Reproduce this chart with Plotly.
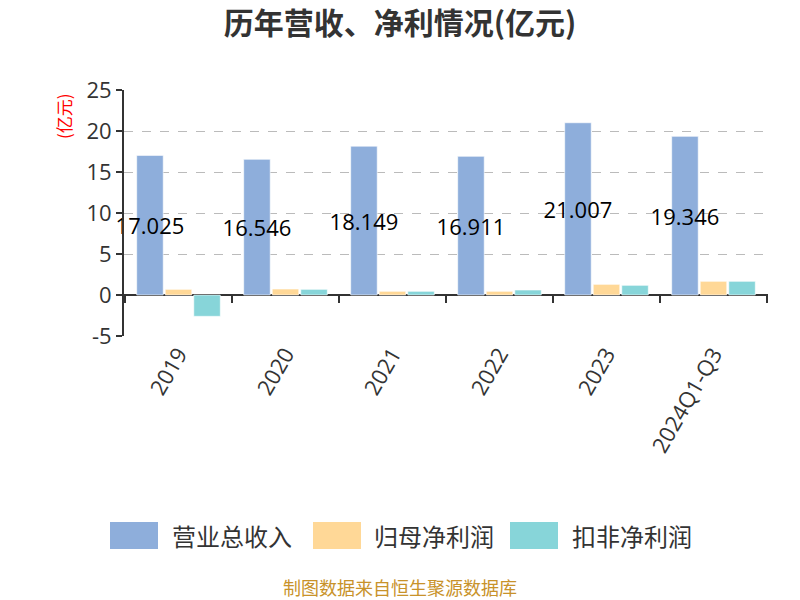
import plotly.graph_objects as go

categories = ["2019", "2020", "2021", "2022", "2023", "2024Q1-Q3"]
revenue = [17.025, 16.546, 18.149, 16.911, 21.007, 19.346]
net_profit = [0.69, 0.73, 0.45, 0.45, 1.30, 1.67]
deducted_profit = [-2.60, 0.69, 0.45, 0.61, 1.18, 1.67]
series_names = ["营业总收入", "归母净利润", "扣非净利润"]
colors = ["#8eaedb", "#ffd897", "#87d5d9"]
y_tick_values = [-5, 0, 5, 10, 15, 20, 25]
y_tick_labels = ["-5", "0", "5", "10", "15", "20", "25"]

CJK = "Noto Sans CJK SC, sans-serif"
NUM = "Open Sans, Noto Sans CJK SC, sans-serif"

W, H = 800, 600
ML, MR, MT, MB = 124, 32, 90, 264
PW, PH = W - ML - MR, H - MT - MB


def px(x):
    return (x - ML) / PW


def py(y):
    return (H - MB - y) / PH


fig = go.Figure()
fig.add_trace(go.Bar(
    x=categories, y=revenue, name=series_names[0],
    marker=dict(color=colors[0], line=dict(color="rgba(255,255,255,0.6)", width=1)),
    text=[f"{v:.3f}" for v in revenue], textposition="inside", textangle=0,
    constraintext="none", insidetextanchor="middle", cliponaxis=False,
    insidetextfont=dict(family=NUM, size=22, color="#000"),
    showlegend=False,
))
fig.add_trace(go.Bar(
    x=categories, y=net_profit, name=series_names[1],
    marker=dict(color=colors[1], line=dict(color="rgba(255,255,255,0.6)", width=1)),
    showlegend=False,
))
fig.add_trace(go.Bar(
    x=categories, y=deducted_profit, name=series_names[2],
    marker=dict(color=colors[2], line=dict(color="rgba(255,255,255,0.6)", width=1)),
    showlegend=False,
))

# category boundary ticks on the zero line
shapes = []
for k in range(len(categories) + 1):
    shapes.append(dict(
        type="line", xref="x", yref="y", x0=k - 0.5, x1=k - 0.5,
        ysizemode="pixel", yanchor=0, y0=0, y1=-8,
        line=dict(color="#333", width=2),
    ))

# custom legend
legend_items = [(110, 170), (313, 372), (510, 570)]
annotations = []
for (rx, tx), name, col in zip(legend_items, series_names, colors):
    shapes.append(dict(type="rect", xref="paper", yref="paper",
                       x0=px(rx), x1=px(rx + 48), y0=py(549), y1=py(522),
                       fillcolor=col, line=dict(width=0), layer="above"))
    annotations.append(dict(xref="paper", yref="paper", x=px(tx), y=py(535),
                            text=name, showarrow=False, xanchor="left", yanchor="middle",
                            font=dict(family=CJK, size=24, color="#333")))

annotations.append(dict(xref="paper", yref="paper", x=px(63), y=py(116),
                        text="(亿元)", showarrow=False, textangle=-90,
                        xanchor="center", yanchor="middle",
                        font=dict(family=CJK, size=17, color="red")))
annotations.append(dict(xref="paper", yref="paper", x=px(400), y=py(587),
                        text="制图数据来自恒生聚源数据库", showarrow=False,
                        xanchor="center", yanchor="middle",
                        font=dict(family=CJK, size=18, color="#c8922a")))

fig.update_layout(
    width=W, height=H,
    margin=dict(l=ML, r=MR, t=MT, b=MB),
    paper_bgcolor="white", plot_bgcolor="white",
    barmode="group", bargap=0.2, bargroupgap=0.07,
    title=dict(text="<b>历年营收、净利情况(亿元)</b>", x=0.5, xanchor="center",
               y=1 - 23 / 600, yanchor="middle",
               font=dict(family=CJK, size=30, color="#333")),
    font=dict(family=CJK, color="#333"),
    xaxis=dict(tickangle=-60, tickfont=dict(family=NUM, size=22, color="#333"),
               showgrid=False, showline=False, ticks="", zeroline=False),
    yaxis=dict(range=[-5, 25], tickmode="array", tickvals=y_tick_values, ticktext=y_tick_labels,
               showgrid=True, gridcolor="#bbbbbb", griddash="dash", gridwidth=1,
               zeroline=True, zerolinecolor="#333", zerolinewidth=2,
               showline=True, linecolor="#333", linewidth=2,
               ticks="outside", ticklen=6, tickwidth=2, tickcolor="#333",
               tickfont=dict(family=NUM, size=22, color="#333")),
    shapes=shapes,
    annotations=annotations,
)

fig.write_html("out.html")
